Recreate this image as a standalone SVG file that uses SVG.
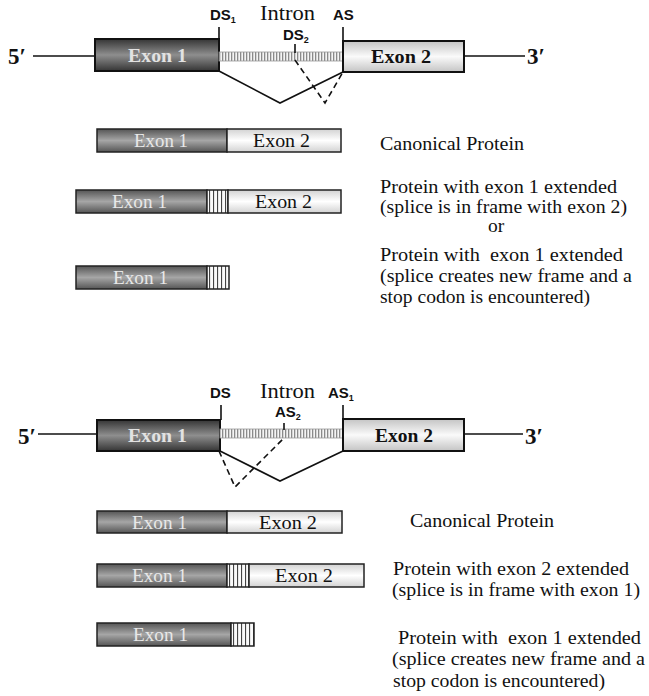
<svg xmlns="http://www.w3.org/2000/svg" width="649" height="696" viewBox="0 0 649 696">
<defs>
<linearGradient id="gEx1" x1="0" y1="0" x2="0" y2="1">
<stop offset="0" stop-color="#353535"/><stop offset="0.5" stop-color="#8e8e8e"/><stop offset="1" stop-color="#353535"/>
</linearGradient>
<linearGradient id="gEx2" x1="0" y1="0" x2="0" y2="1">
<stop offset="0" stop-color="#c4c4c4"/><stop offset="0.5" stop-color="#fafafa"/><stop offset="1" stop-color="#c4c4c4"/>
</linearGradient>
<linearGradient id="pEx1" x1="0" y1="0" x2="0" y2="1">
<stop offset="0" stop-color="#555"/><stop offset="0.5" stop-color="#a6a6a6"/><stop offset="1" stop-color="#555"/>
</linearGradient>
<linearGradient id="pEx2" x1="0" y1="0" x2="0" y2="1">
<stop offset="0" stop-color="#d2d2d2"/><stop offset="0.5" stop-color="#ffffff"/><stop offset="1" stop-color="#d2d2d2"/>
</linearGradient>
<pattern id="intron" width="3" height="10" patternUnits="userSpaceOnUse">
<rect width="3" height="10" fill="#f4f4f4"/><rect x="0" width="1.3" height="10" fill="#8a8a8a"/>
</pattern>
<pattern id="stripe" width="4" height="10" patternUnits="userSpaceOnUse">
<rect width="4" height="10" fill="#fafafa"/><rect x="1" width="1.1" height="10" fill="#444"/>
</pattern>
</defs>
<style>
.box{stroke:#111;stroke-width:2}
.seg{stroke:#222;stroke-width:1.5}
.ln{stroke:#111;stroke-width:1.6;fill:none}
.intr{fill:url(#intron);stroke:#999;stroke-width:0.8}
.sans{font-family:"Liberation Sans",Arial,sans-serif;font-weight:bold;font-size:15px;fill:#111}
.serif{font-family:"Liberation Serif","Times New Roman",serif}
.end{font-weight:bold;font-size:23px;fill:#111}
.intn{font-size:22px;fill:#111}
.ex1g{font-weight:bold;font-size:19px;fill:#e2e2e2}
.ex2g{font-weight:bold;font-size:19px;fill:#111}
.ex1p{font-size:19px;fill:#e8e8e8}
.ex2p{font-size:19px;fill:#111}
.desc{font-size:19.5px;fill:#111}
.dash{stroke-dasharray:6 4}
</style>

<!-- Top gene -->
<g id="gene1">
<line class="ln" x1="33" y1="56" x2="95" y2="56"/>
<line class="ln" x1="464" y1="56" x2="525" y2="56"/>
<rect class="box" x="95" y="39" width="124" height="32" fill="url(#gEx1)"/>
<rect class="intr" x="219" y="52" width="124" height="9"/>
<rect class="box" x="343" y="41" width="121" height="31" fill="url(#gEx2)"/>
<line class="ln" x1="219" y1="27" x2="219" y2="39"/>
<line class="ln" x1="343" y1="27" x2="343" y2="41"/>
<line class="ln" x1="295" y1="44" x2="295" y2="53"/>
<text class="serif end" x="8" y="64">5′</text>
<text class="serif end" x="527" y="64">3′</text>
<text class="serif ex1g" x="128" y="62" textLength="59" lengthAdjust="spacingAndGlyphs">Exon 1</text>
<text class="serif ex2g" x="371" y="63" textLength="60" lengthAdjust="spacingAndGlyphs">Exon 2</text>
<text class="sans" x="210" y="20">DS<tspan font-size="9" dy="3">1</tspan></text>
<text class="serif intn" x="260" y="20" textLength="55" lengthAdjust="spacingAndGlyphs">Intron</text>
<text class="sans" x="333" y="20">AS</text>
<text class="sans" x="283" y="40" font-size="14">DS<tspan font-size="9" dy="3">2</tspan></text>
</g>

<!-- Top proteins -->
<g id="prot1a">
<rect class="seg" x="97" y="129" width="130" height="23" fill="url(#pEx1)"/>
<rect class="seg" x="227" y="129" width="114" height="23" fill="url(#pEx2)"/>
<text class="serif ex1p" x="134" y="147" textLength="54" lengthAdjust="spacingAndGlyphs">Exon 1</text>
<text class="serif ex2p" x="253" y="147" textLength="57" lengthAdjust="spacingAndGlyphs">Exon 2</text>
</g>
<g id="prot1b">
<rect class="seg" x="76" y="190" width="131" height="23" fill="url(#pEx1)"/>
<rect class="seg" x="207" y="190" width="21" height="23" fill="url(#stripe)"/>
<rect class="seg" x="228" y="190" width="113" height="23" fill="url(#pEx2)"/>
<text class="serif ex1p" x="112" y="208" textLength="55" lengthAdjust="spacingAndGlyphs">Exon 1</text>
<text class="serif ex2p" x="255" y="208" textLength="57" lengthAdjust="spacingAndGlyphs">Exon 2</text>
</g>
<g id="prot1c">
<rect class="seg" x="76" y="266" width="131" height="23" fill="url(#pEx1)"/>
<rect class="seg" x="207" y="266" width="22" height="23" fill="url(#stripe)"/>
<text class="serif ex1p" x="113" y="284" textLength="55" lengthAdjust="spacingAndGlyphs">Exon 1</text>
</g>

<g id="desc1">
<text class="serif desc" x="380" y="150" textLength="144" lengthAdjust="spacingAndGlyphs">Canonical Protein</text>
<text class="serif desc" x="380" y="193" textLength="237" lengthAdjust="spacingAndGlyphs">Protein with exon 1 extended</text>
<text class="serif desc" x="380" y="213" textLength="247" lengthAdjust="spacingAndGlyphs">(splice is in frame with exon 2)</text>
<text class="serif desc" x="488" y="232">or</text>
<text class="serif desc" x="380" y="261" textLength="243" lengthAdjust="spacingAndGlyphs" xml:space="preserve">Protein with  exon 1 extended</text>
<text class="serif desc" x="380" y="282" textLength="252" lengthAdjust="spacingAndGlyphs">(splice creates new frame and a</text>
<text class="serif desc" x="380" y="303" textLength="210" lengthAdjust="spacingAndGlyphs">stop codon is encountered)</text>
</g>

<!-- Bottom gene -->
<g id="gene2">
<line class="ln" x1="38" y1="434" x2="97" y2="434"/>
<line class="ln" x1="464" y1="434" x2="523" y2="434"/>
<rect class="box" x="97" y="420" width="123" height="31" fill="url(#gEx1)"/>
<rect class="intr" x="220" y="429" width="123" height="9"/>
<rect class="box" x="343" y="419" width="121" height="32" fill="url(#gEx2)"/>
<line class="ln" x1="221" y1="405" x2="221" y2="420"/>
<line class="ln" x1="343" y1="405" x2="343" y2="419"/>
<line class="ln" x1="284" y1="423" x2="284" y2="430"/>
<text class="serif end" x="18" y="444">5′</text>
<text class="serif end" x="525" y="444">3′</text>
<text class="serif ex1g" x="128" y="442" textLength="59" lengthAdjust="spacingAndGlyphs">Exon 1</text>
<text class="serif ex2g" x="375" y="442" textLength="58" lengthAdjust="spacingAndGlyphs">Exon 2</text>
<text class="sans" x="210" y="398">DS</text>
<text class="serif intn" x="260" y="398" textLength="55" lengthAdjust="spacingAndGlyphs">Intron</text>
<text class="sans" x="328" y="398">AS<tspan font-size="9" dy="3">1</tspan></text>
<text class="sans" x="275" y="417" font-size="14">AS<tspan font-size="9" dy="3">2</tspan></text>
</g>

<!-- Bottom proteins -->
<g id="prot2a">
<rect class="seg" x="97" y="511" width="130" height="22" fill="url(#pEx1)"/>
<rect class="seg" x="227" y="511" width="115" height="22" fill="url(#pEx2)"/>
<text class="serif ex1p" x="132" y="529" textLength="55" lengthAdjust="spacingAndGlyphs">Exon 1</text>
<text class="serif ex2p" x="259" y="529" textLength="58" lengthAdjust="spacingAndGlyphs">Exon 2</text>
</g>
<g id="prot2b">
<rect class="seg" x="97" y="564" width="130" height="23" fill="url(#pEx1)"/>
<rect class="seg" x="227" y="564" width="22" height="23" fill="url(#stripe)"/>
<rect class="seg" x="249" y="564" width="115" height="23" fill="url(#pEx2)"/>
<text class="serif ex1p" x="132" y="582" textLength="55" lengthAdjust="spacingAndGlyphs">Exon 1</text>
<text class="serif ex2p" x="275" y="582" textLength="58" lengthAdjust="spacingAndGlyphs">Exon 2</text>
</g>
<g id="prot2c">
<rect class="seg" x="97" y="623" width="134" height="23" fill="url(#pEx1)"/>
<rect class="seg" x="231" y="623" width="23" height="23" fill="url(#stripe)"/>
<text class="serif ex1p" x="133" y="641" textLength="55" lengthAdjust="spacingAndGlyphs">Exon 1</text>
</g>

<g id="desc2">
<text class="serif desc" x="410" y="527" textLength="144" lengthAdjust="spacingAndGlyphs">Canonical Protein</text>
<text class="serif desc" x="393" y="575" textLength="236" lengthAdjust="spacingAndGlyphs">Protein with exon 2 extended</text>
<text class="serif desc" x="392" y="596" textLength="248" lengthAdjust="spacingAndGlyphs">(splice is in frame with exon 1)</text>
<text class="serif desc" x="398" y="644" textLength="243" lengthAdjust="spacingAndGlyphs" xml:space="preserve">Protein with  exon 1 extended</text>
<text class="serif desc" x="392" y="665" textLength="253" lengthAdjust="spacingAndGlyphs">(splice creates new frame and a</text>
<text class="serif desc" x="393" y="687" textLength="212" lengthAdjust="spacingAndGlyphs">stop codon is encountered)</text>
</g>

<!-- Connectors: splice lines -->
<g id="connectors">
<polyline class="ln" points="219,71 280,103 343,72"/>
<polyline class="ln dash" points="295,60 325,103 343,72"/>
<polyline class="ln" points="220,451 280,481 343,451"/>
<polyline class="ln dash" points="219,451 235,487 283,439"/>
</g>
</svg>
